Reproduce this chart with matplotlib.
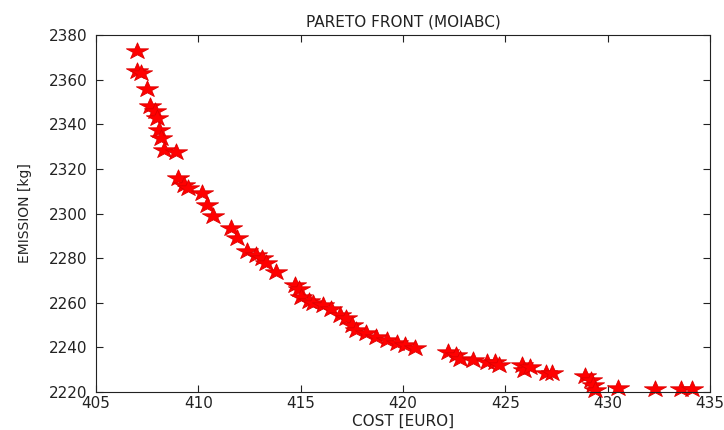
import matplotlib
matplotlib.use("Agg")
import numpy as np
import matplotlib.pyplot as plt
from matplotlib.path import Path

cost = [407.0, 407.0, 407.2, 407.5, 407.65, 407.9, 408.0, 408.1, 408.2, 408.3, 408.9,
        409.0, 409.3, 409.5, 410.2, 410.4, 410.7, 411.6, 411.9, 412.4, 412.8, 413.1,
        413.3, 413.8, 414.7, 414.9, 415.0, 415.4, 415.6, 416.1, 416.5, 416.9, 417.2,
        417.5, 417.7, 418.2, 418.7, 419.2, 419.7, 420.1, 420.6, 422.2, 422.6, 422.8,
        423.4, 424.1, 424.5, 424.7, 425.8, 425.9, 426.2, 427.0, 427.3, 428.9, 429.2,
        429.3, 429.4, 430.5, 432.3, 433.6, 434.1]
emission = [2373, 2364, 2363, 2356, 2348, 2346, 2343, 2337.5, 2334, 2328.5, 2327.6,
            2316, 2313, 2311.5, 2309, 2304, 2299, 2293.5, 2289, 2283, 2281.5, 2280,
            2278, 2274, 2268, 2266, 2262.5, 2261, 2260, 2259, 2257, 2254.5, 2253,
            2250, 2248, 2246.5, 2244.7, 2243.3, 2242, 2241, 2239.7, 2238, 2236.6, 2235,
            2234.3, 2233.5, 2233.5, 2232, 2232, 2230, 2231, 2228.5, 2228.5, 2227, 2225.4,
            2223, 2221, 2222, 2221.3, 2221.3, 2221.3]
xticks = [405, 410, 415, 420, 425, 430, 435]
yticks = [2220, 2240, 2260, 2280, 2300, 2320, 2340, 2360, 2380]

# horizontally stretched five-pointed star marker
ang = np.pi / 2 + np.arange(10) * np.pi / 5
rad = np.where(np.arange(10) % 2 == 0, 1.0, 0.382)
verts = np.column_stack([1.35 * rad * np.cos(ang), rad * np.sin(ang)])
verts = np.vstack([verts, verts[:1]])
star = Path(verts, closed=True)

plt.rcParams['font.family'] = ['DejaVu Sans']
fig = plt.figure(figsize=(7.24, 4.30), dpi=100)
ax = fig.add_axes([0.1326, 0.0884, 0.848, 0.830])
ax.plot(cost, emission, linestyle='none', marker=star, markersize=16,
        markerfacecolor='#ff0000', markeredgecolor='#dd0000', markeredgewidth=0.6,
        clip_on=False)
ax.set_xlim(405, 435)
ax.set_ylim(2220, 2380)
ax.set_xticks(xticks)
ax.set_yticks(yticks)
ax.tick_params(direction='in', top=True, right=True, labelsize=11, length=5,
               width=0.8, colors='#222222')
ax.tick_params(axis='x', pad=3)
ax.tick_params(axis='y', pad=6)
for s in ax.spines.values():
    s.set_linewidth(0.8)
    s.set_color('#222222')
ax.set_title('PARETO FRONT (MOIABC)', fontsize=11, pad=6, color='#222222')
ax.set_xlabel('COST [EURO]', fontsize=11, color='#222222')
ax.set_ylabel('EMISSION [kg]', fontsize=10, color='#222222')
ax.xaxis.set_label_coords(0.5, -0.061)
ax.yaxis.set_label_coords(-0.105, 0.5)
fig.savefig('out.png', dpi=100)
